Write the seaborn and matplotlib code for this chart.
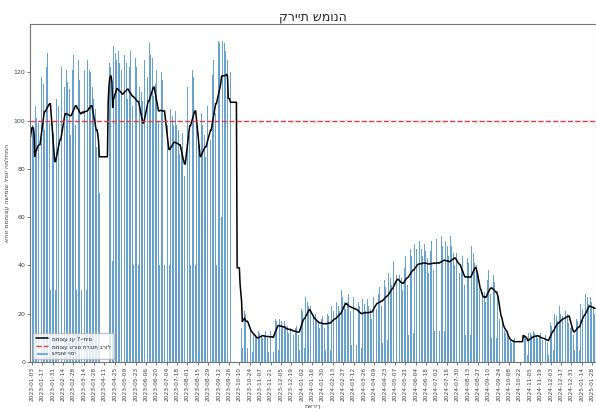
import numpy as np
import pandas as pd
import matplotlib
matplotlib.use("Agg")
import matplotlib.pyplot as plt
from matplotlib.lines import Line2D
from matplotlib.patches import Patch
import seaborn as sns

N = np.nan
START_DATE = "2023-01-01"  # first Sunday; each row = Sun..Sat

weeks_2023_jan_may = [
    [93, 97, 101, 98, 96, 81, 30],
    [106, 101, 107, 104, 99, 83, 30],
    [123, 118, 124, 120, 115, 96, 30],
    [127, 122, 128, 124, 119, 99, 30],
    [98, 93, 99, 95, 90, 76, 30],
    [109, 104, 110, 106, 101, 85, 30],
    [122, 117, 123, 119, 114, 95, 30],
    [121, 116, 122, 118, 113, 94, 30],
    [126, 121, 127, 123, 118, 98, 30],
    [120, 118, 125, 117, 115, 95, 30],
    [124, 119, 122, 121, 115, 96, 30],
    [125, 122, 127, 121, 120, 98, 30],
    [114, 109, 115, 111, 105, 89, 30],
    [100, 90, 70, N, N, N, N],
    [N, N, N, N, N, N, N],
    [108, 120, 124, 122, 118, 104, 42],
    [131, 126, 132, 128, 125, 109, 40],
    [129, 124, 130, 126, 121, 107, 40],
    [132, 127, 131, 128, 124, 109, 40],
    [128, 122, 129, 125, 120, 106, 40],
    [125, 120, 126, 122, 118, 104, 40],
    [114, 109, 115, 112, 108, 95, 40],
]
weeks_2023_jun_oct = [
    [125, 121, 126, 122, 118, 104, 40],
    [132, 127, 133, 129, 126, 110, 40],
    [120, 115, 121, 118, 114, 100, 40],
    [121, 116, 120, 117, 114, 100, 40],
    [101, 96, 102, 98, 95, 84, 40],
    [105, 99, 106, 102, 98, 87, 40],
    [104, 98, 105, 101, 96, 86, 40],
    [94, 89, 95, 91, 88, 77, 40],
    [113, 108, 114, 110, 106, 94, 40],
    [120, 116, 121, 118, 113, 100, 40],
    [98, 93, 99, 95, 90, 81, 40],
    [103, 98, 104, 100, 94, 85, 40],
    [111, 106, 112, 108, 103, 92, 40],
    [124, 119, 125, 121, 117, 103, 40],
    [133, 130, 133, 132, 128, 113, 60],
    [133, 131, 133, 132, 129, 114, 62],
    [125, 70, 132, 130, 120, N, N],
    [N, N, N, N, N, N, 39],
    [N, N, N, 25, 22, 14, 6],
    [20, 19, 21, 20, 18, 14, 6],
    [15, 13, 15, 14, 13, 11, 4],
    [12, 11, 13, 11, 10, 9, 4],
]
weeks_2023_nov_2024_mar = [
    [13, 12, 14, 12, 11, 10, 4],
    [13, 11, 13, 12, 11, 10, 4],
    [12, 11, 13, 12, 11, 9, 4],
    [19, 17, 18, 17, 16, 14, 5],
    [18, 16, 18, 17, 15, 13, 5],
    [17, 15, 16, 15, 15, 12, 5],
    [16, 14, 16, 15, 13, 11, 5],
    [15, 14, 15, 14, 13, 11, 5],
    [23, 20, 22, 21, 19, 15, 6],
    [27, 24, 26, 25, 23, 20, 7],
    [23, 20, 22, 21, 19, 15, 6],
    [20, 18, 20, 19, 17, 14, 5],
    [20, 18, 19, 18, 17, 14, 5],
    [20, 18, 20, 19, 17, 14, 5],
    [23, 20, 22, 21, 19, 15, 6],
    [25, 22, 25, 23, 21, 18, 6],
    [30, 27, 30, 28, 25, 22, 8],
    [28, 25, 28, 26, 24, 21, 7],
    [27, 24, 27, 25, 23, 20, 7],
    [25, 22, 25, 23, 21, 18, 6],
    [26, 23, 25, 24, 21, 18, 6],
    [26, 23, 26, 24, 22, 18, 6],
]
weeks_2024_apr_aug = [
    [30, 27, 30, 28, 25, 22, 8],
    [31, 28, 31, 29, 27, 23, 8],
    [34, 30, 34, 31, 29, 25, 9],
    [37, 33, 38, 35, 32, 28, 10],
    [42, 38, 43, 39, 36, 31, 11],
    [40, 36, 40, 37, 35, 30, 10],
    [43, 39, 44, 40, 37, 32, 11],
    [47, 42, 47, 44, 40, 35, 12],
    [49, 45, 50, 47, 43, 37, 13],
    [50, 45, 50, 47, 44, 38, 13],
    [49, 46, 49, 47, 43, 37, 13],
    [50, 46, 50, 46, 44, 38, 13],
    [49, 46, 51, 47, 43, 38, 13],
    [51, 47, 52, 48, 45, 39, 13],
    [50, 47, 51, 48, 44, 38, 13],
    [52, 48, 53, 50, 45, 40, 14],
    [49, 45, 49, 46, 43, 37, 13],
    [43, 39, 44, 40, 37, 32, 11],
    [44, 39, 43, 41, 36, 32, 11],
    [48, 43, 49, 45, 41, 36, 12],
    [40, 36, 38, 33, 30, 23, 10],
    [31, 29, 34, 31, 29, 25, 9],
]
weeks_2024_sep_2025_jan = [
    [37, 34, 38, 35, 33, 28, 10],
    [36, 32, 36, 33, 30, 26, 10],
    [29, 26, 22, 18, 16, 13, 6],
    [18, 16, 16, 13, 12, 10, 4],
    [11, 10, 11, 10, 9, 8, 3],
    [10, 9, 10, N, N, N, N],
    [N, N, N, N, N, N, N],
    [11, 10, 11, 10, 9, 8, 3],
    [12, 11, 13, 12, 11, 9, 4],
    [13, 12, 14, 12, 11, 10, 4],
    [12, 11, 12, 11, 10, 9, 4],
    [11, 10, 11, 10, 9, 8, 3],
    [16, 14, 16, 15, 13, 12, 5],
    [20, 18, 20, 19, 17, 14, 5],
    [23, 20, 22, 21, 19, 15, 6],
    [24, 21, 24, 22, 20, 16, 6],
    [15, 14, 15, 14, 13, 11, 5],
    [18, 16, 18, 17, 15, 13, 5],
    [24, 22, 24, 22, 20, 17, 7],
    [28, 26, 29, 27, 24, 21, 7],
    [27, 25, 28, 26, 23, 20, 7],
]

title_text = "קריית שמונה"
ylabel_text = "אחוז מממוצע השימוש לפני המלחמה"
xlabel_text = "תאריך"
legend_labels = ["ממוצע נע 7-ימים", "ממוצע טרום חרבות ברזל", "שימוש יומי"]
baseline_value = 100
tick_first, tick_last, tick_step = "2023-01-03", "2025-01-28", "14D"
y_ticks = [0, 20, 40, 60, 80, 100, 120]

weeks = (weeks_2023_jan_may + weeks_2023_jun_oct + weeks_2023_nov_2024_mar
         + weeks_2024_apr_aug + weeks_2024_sep_2025_jan)
daily = np.array([v for w in weeks for v in w], dtype=float)
dates = pd.date_range(START_DATE, periods=len(daily), freq="D")
df = pd.DataFrame({"date": dates, "usage": daily})
df["pos"] = np.arange(len(df))
roll = df["usage"].rolling(7, min_periods=1).mean()
roll[df["usage"].isna()] = np.nan
df["rolling"] = roll.ffill()

sns.set_theme(style="ticks")
plt.rcParams["font.family"] = ["DejaVu Sans"]

BAR_COLOR = "#2a7ab8"
RED = "#e04040"
fig = plt.figure(figsize=(5.96, 4.09), dpi=100)
ax = fig.add_axes([30 / 596, 47 / 409, 565.5 / 596, 338 / 409])

bars = df.dropna(subset=["usage"])
ax.bar(bars["pos"], bars["usage"], width=0.6, color=BAR_COLOR, alpha=0.7,
       linewidth=0)
sns.lineplot(data=df, x="pos", y="rolling", color="black", linewidth=1.1,
             ax=ax)
ax.axhline(baseline_value, color=RED, linestyle="--", linewidth=1.0)

tick_dates = pd.date_range(tick_first, tick_last, freq=tick_step)
tick_pos = (tick_dates - pd.Timestamp(START_DATE)).days
ax.set_xticks(tick_pos, [d.strftime("%Y-%m-%d") for d in tick_dates],
              rotation=90, fontsize=4.2)
ax.set_yticks(y_ticks, [str(t) for t in y_ticks], fontsize=4.5)
ax.set_xlim(-0.5, len(df) - 0.5)
ax.set_ylim(0, 140)
ax.tick_params(length=2, width=0.5, pad=1.5, colors="0.25")
for sp in ax.spines.values():
    sp.set_color("0.45")
    sp.set_linewidth(0.8)

ax.set_title(title_text, fontsize=9, pad=2)
ax.set_xlabel(xlabel_text, fontsize=4.5, labelpad=2, color="0.25")
ax.set_ylabel(ylabel_text, fontsize=4.5, labelpad=3, color="0.25")

handles = [
    Line2D([], [], color="black", linewidth=1.1),
    Line2D([], [], color=RED, linestyle="--", linewidth=1.0),
    Patch(facecolor=BAR_COLOR, alpha=0.7),
]
ax.legend(handles, legend_labels, loc="lower left",
          fontsize=4, frameon=True, framealpha=0.8, edgecolor="0.7",
          handlelength=2.2, borderpad=0.5, labelspacing=0.5)

fig.savefig("out.png", dpi=100)
